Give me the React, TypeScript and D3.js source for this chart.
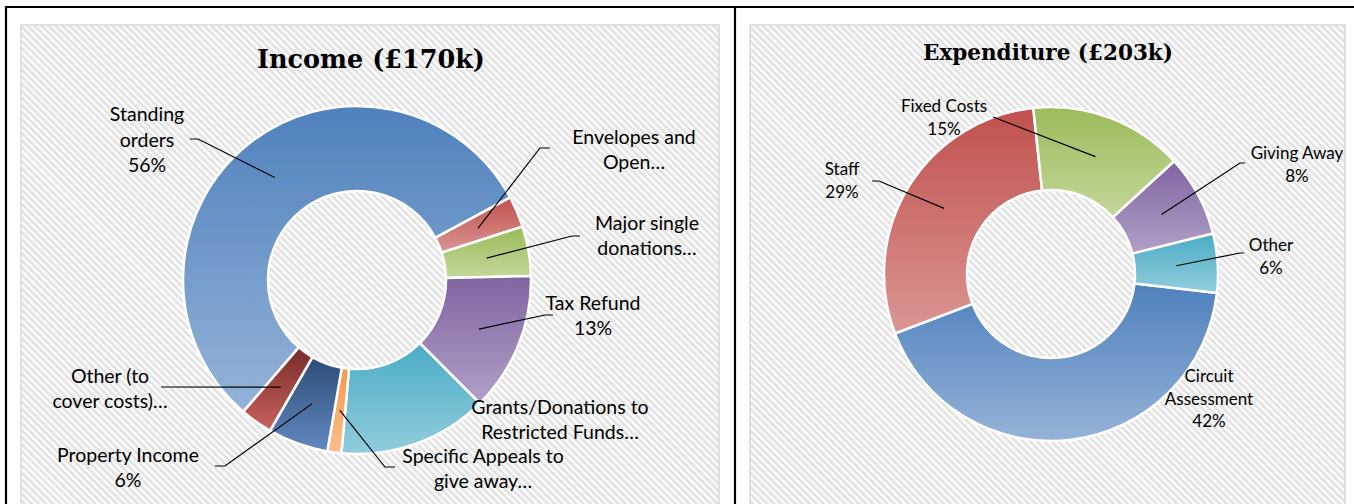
import React, { useEffect, useRef } from "react";
import * as d3 from "d3";

// income donut (values in % of £170k)
const incomeNames = [
  "Standing\norders",
  "Envelopes and\nOpen…",
  "Major single\ndonations…",
  "Tax Refund",
  "Grants/Donations to\nRestricted Funds…",
  "Specific Appeals to\ngive away…",
  "Property Income",
  "Other (to\ncover costs)…",
];
const incomeValues = [55.8, 2.9, 4.6, 12.9, 13.9, 1.3, 5.6, 3.0];
const incomeShowPct = [true, false, false, true, false, false, true, false];
const incomeTop = ["#4F81BD", "#C0504D", "#9BBB59", "#8064A2", "#4BACC6", "#F79646", "#2C4D75", "#772C2A"];
const incomeBottom = ["#95B3D7", "#DA9694", "#C4D79B", "#B1A0C7", "#92CDDC", "#FAC090", "#6389C2", "#C9625F"];

// expenditure donut (values in % of £203k)
const expNames = ["Circuit\nAssessment", "Staff", "Fixed Costs", "Giving Away", "Other"];
const expValues = [42.4, 29.1, 14.9, 7.9, 5.7];
const expShowPct = [true, true, true, true, true];
const expTop = ["#4F81BD", "#C0504D", "#9BBB59", "#8064A2", "#4BACC6"];
const expBottom = ["#95B3D7", "#DA9694", "#C4D79B", "#B1A0C7", "#92CDDC"];

// label placement, relative to the donut centre
const incomeLayout = [
  { tx: -210, ty: -141, leader: [[-167, -141], [-159, -141]] },
  { tx: 277, ty: -131, leader: [[193, -132], [183, -132]] },
  { tx: 290, ty: -45, leader: [[223, -44], [215, -44]] },
  { tx: 236, ty: 35, leader: [[196, 35], [188, 35]] },
  { tx: 203, ty: 139 },
  { tx: 126, ty: 188, leader: [[38, 187], [28, 187]] },
  { tx: -229, ty: 187, leader: [[-142, 186], [-132, 186]] },
  { tx: -247, ty: 108, leader: [[-196, 107]] },
];
const expLayout = [
  { tx: 158, ty: 124 },
  { tx: -209, ty: -94, leader: [[-179, -93], [-172, -93]] },
  { tx: -107, ty: -157, leader: [[-58, -157]] },
  { tx: 246, ty: -110, leader: [[194, -111], [189, -111]] },
  { tx: 220, ty: -18, leader: [[193, -21], [189, -21]] },
];

const W = 1354, H = 504;

const App = () => {
  const ref = useRef(null);

  useEffect(() => {
    const svg = d3.select(ref.current);
    svg.selectAll("*").remove();
    const defs = svg.append("defs");

    const pat = defs.append("pattern")
      .attr("id", "hatch")
      .attr("patternUnits", "userSpaceOnUse")
      .attr("width", 5)
      .attr("height", 5)
      .attr("patternTransform", "rotate(-45)");
    pat.append("rect").attr("width", 5).attr("height", 5).attr("fill", "#fbfbfb");
    pat.append("rect").attr("width", 2.4).attr("height", 5).attr("fill", "#e1e1e1");

    svg.append("rect").attr("width", W).attr("height", H).attr("fill", "#fff");

    // chart areas
    [[21, 719], [750, 1345]].forEach(([x0, x1]) => {
      svg.append("rect")
        .attr("x", x0).attr("y", 25)
        .attr("width", x1 - x0).attr("height", 490)
        .attr("fill", "url(#hatch)")
        .attr("stroke", "#d9d9d9")
        .attr("stroke-width", 1.5);
    });

    // table borders
    const border = svg.append("g").attr("stroke", "#000").attr("stroke-width", 2.2);
    border.append("line").attr("x1", 5).attr("x2", W).attr("y1", 7).attr("y2", 7);
    border.append("line").attr("x1", 6).attr("x2", 6).attr("y1", 6).attr("y2", H);
    border.append("line").attr("x1", 735).attr("x2", 735).attr("y1", 6).attr("y2", H);

    const drawDonut = (cfg) => {
      const g = svg.append("g").attr("transform", `translate(${cfg.cx},${cfg.cy})`);
      const a0 = (cfg.start * Math.PI) / 180;
      const pie = d3.pie().sort(null).value((d) => d).startAngle(a0).endAngle(a0 + 2 * Math.PI);
      const arcs = pie(cfg.values);
      const arc = d3.arc().innerRadius(cfg.ri).outerRadius(cfg.ro);
      const total = d3.sum(cfg.values);

      arcs.forEach((a, i) => {
        const lg = defs.append("linearGradient")
          .attr("id", `${cfg.id}-${i}`)
          .attr("x1", 0).attr("y1", 0).attr("x2", 0).attr("y2", 1);
        lg.append("stop").attr("offset", "0%").attr("stop-color", cfg.top[i]);
        lg.append("stop").attr("offset", "100%").attr("stop-color", cfg.bottom[i]);
      });

      g.selectAll("path.slice")
        .data(arcs)
        .join("path")
        .attr("class", "slice")
        .attr("d", arc)
        .attr("fill", (d, i) => `url(#${cfg.id}-${i})`)
        .attr("stroke", "#fff")
        .attr("stroke-width", 2.5);

      arcs.forEach((a, i) => {
        const lay = cfg.layout[i];
        const c = arc.centroid(a);
        if (lay.leader) {
          g.append("path")
            .attr("d", d3.line()([...lay.leader, c]))
            .attr("fill", "none")
            .attr("stroke", "#000")
            .attr("stroke-width", 1.2);
        }
        const lines = cfg.names[i].split("\n");
        if (cfg.showPct[i]) lines.push(Math.round((a.value / total) * 100) + "%");
        const t = g.append("text")
          .attr("text-anchor", "middle")
          .attr("font-family", "Lato, 'Open Sans', sans-serif")
          .attr("font-size", cfg.fontSize)
          .attr("fill", "#000");
        lines.forEach((s, k) => {
          t.append("tspan")
            .attr("x", lay.tx)
            .attr("y", lay.ty + (k - (lines.length - 1) / 2) * cfg.lineH)
            .attr("dominant-baseline", "central")
            .text(s);
        });
      });

      svg.append("text")
        .attr("x", cfg.titleX)
        .attr("y", cfg.titleY)
        .attr("text-anchor", "middle")
        .attr("font-family", "'DejaVu Serif', serif")
        .attr("font-weight", "bold")
        .attr("font-size", cfg.titleSize)
        .text(cfg.title);
    };

    drawDonut({
      id: "inc", cx: 357, cy: 280, ro: 174, ri: 89, start: 220.8,
      values: incomeValues, names: incomeNames, showPct: incomeShowPct,
      top: incomeTop, bottom: incomeBottom, layout: incomeLayout,
      fontSize: 19.5, lineH: 25.5,
      title: "Income (£170k)", titleX: 371, titleY: 68, titleSize: 25.5,
    });

    drawDonut({
      id: "exp", cx: 1051, cy: 274, ro: 167, ri: 84, start: 96.5,
      values: expValues, names: expNames, showPct: expShowPct,
      top: expTop, bottom: expBottom, layout: expLayout,
      fontSize: 17, lineH: 22.5,
      title: "Expenditure (£203k)", titleX: 1048, titleY: 60, titleSize: 21.5,
    });
  }, []);

  return (
    <svg
      ref={ref}
      width={W}
      height={H}
      style={{ position: "absolute", left: 0, top: 0, display: "block" }}
    ></svg>
  );
};

export default App;
